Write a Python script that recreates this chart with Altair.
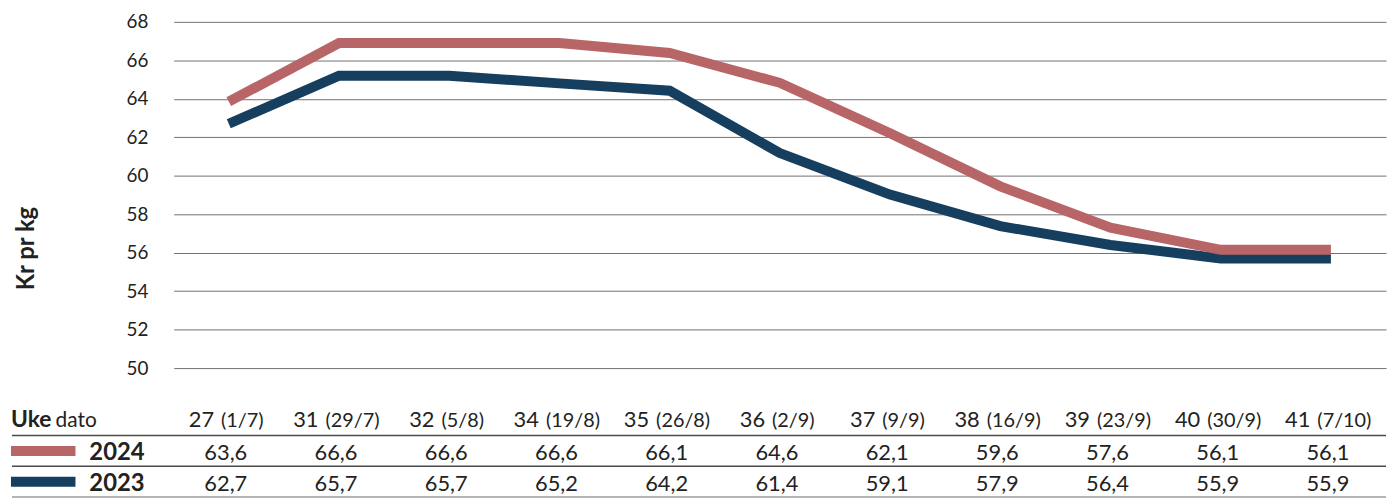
import altair as alt
import pandas as pd

# ---- data ----
weeks = ["27", "31", "32", "34", "35", "36", "37", "38", "39", "40", "41"]
dates = ["(1/7)", "(29/7)", "(5/8)", "(19/8)", "(26/8)", "(2/9)", "(9/9)",
         "(16/9)", "(23/9)", "(30/9)", "(7/10)"]
line_2024 = [63.85, 66.9, 66.9, 66.9, 66.38, 64.83, 62.21, 59.45, 57.3, 56.15, 56.15]
line_2023 = [62.7, 65.2, 65.2, 64.8, 64.42, 61.18, 59.02, 57.38, 56.4, 55.7, 55.7]
table_2024 = [63.6, 66.6, 66.6, 66.6, 66.1, 64.6, 62.1, 59.6, 57.6, 56.1, 56.1]
table_2023 = [62.7, 65.7, 65.7, 65.2, 64.2, 61.4, 59.1, 57.9, 56.4, 55.9, 55.9]
years = ["2024", "2023"]
colors = ["#B86567", "#163E5E"]
y_ticks = list(range(50, 70, 2))

FONT = "Lato"
INK = "#222222"
W, H, TH = 1222, 349, 93
n = len(weeks)
step = W / n
idx = list(range(n))


def fmt(v):
    return f"{v:.1f}".replace(".", ",")


xscale = alt.Scale(domain=[-0.5, n - 0.5], nice=False, zero=False)
yscale = alt.Scale(domain=[50, 68], nice=False, zero=False)
color = alt.Color("year:N", scale=alt.Scale(domain=years, range=colors), legend=None)

yaxis = alt.Axis(values=y_ticks, grid=True, gridColor="#707070", gridWidth=1,
                 domain=False, ticks=False, labelPadding=26, labelFont=FONT,
                 labelFontSize=19, labelColor=INK,
                 title="Kr pr kg", titleFont=FONT, titleFontSize=24,
                 titleFontWeight="bold", titleColor=INK, titleAngle=-90,
                 titleX=-141, titleY=228, titleAlign="center",
                 titleBaseline="alphabetic")

line_df = pd.DataFrame({"i": idx * 2,
                        "year": ["2024"] * n + ["2023"] * n,
                        "value": line_2024 + line_2023})


def line_layer(yr):
    return alt.Chart(line_df).transform_filter(alt.datum.year == yr).mark_line(
        strokeWidth=10, strokeCap="butt", strokeJoin="miter").encode(
        x=alt.X("i:Q", scale=xscale, axis=None),
        y=alt.Y("value:Q", scale=yscale, axis=yaxis),
        color=color)


top = alt.layer(line_layer("2023"), line_layer("2024")).properties(width=W, height=H)

# ---- table ----
rscale = alt.Scale(domain=[0, 3], reverse=True, nice=False, zero=False)
ry = alt.Y("r:Q", scale=rscale, axis=None)

hdr_df = pd.DataFrame({"i": idx, "week": weeks, "date": dates})
hdr = alt.Chart(hdr_df).transform_calculate(
    r="0.5",
    xw=f"datum.i + (25.5 - 7 - (11.6*length(datum.date) - 15.8))/2/{step} - 3/{step}",
    xd=f"datum.i + (25.5 + 7 - (11.6*length(datum.date) - 15.8))/2/{step} - 3/{step}",
)
hdr_week = hdr.mark_text(align="right", baseline="alphabetic", dy=7, font=FONT,
                         fontSize=22, color=INK).encode(
    x=alt.X("xw:Q", scale=xscale, axis=None), y=ry, text="week:N")
hdr_date = hdr.mark_text(align="left", baseline="alphabetic", dy=7, font=FONT,
                         fontSize=20, color=INK).encode(
    x=alt.X("xd:Q", scale=xscale, axis=None), y=ry, text="date:N")

val_df = pd.DataFrame({"i": idx * 2,
                       "year": ["2024"] * n + ["2023"] * n,
                       "label": [fmt(v) for v in table_2024] + [fmt(v) for v in table_2023]})
vals = alt.Chart(val_df).transform_calculate(
    r="datum.year == '2024' ? 1.5 : 2.5"
).mark_text(align="center", baseline="alphabetic", dy=9, dx=-3, font=FONT, fontSize=22,
            color=INK).encode(
    x=alt.X("i:Q", scale=xscale, axis=None), y=ry, text="label:N")

row_df = pd.DataFrame({"year": years})
row_base = alt.Chart(row_df).transform_calculate(
    r="datum.year == '2024' ? 1.5 : 2.5")
row_lbl = row_base.mark_text(align="left", baseline="alphabetic", dy=9, font=FONT,
                             fontSize=24, fontWeight="bold", color=INK).encode(
    x=alt.value(-85), y=ry, text="year:N")
swatch = row_base.mark_rule(strokeWidth=10, strokeCap="square").encode(
    x=alt.value(-159), x2=alt.value(-104), y=ry, color=color)

head_df = pd.DataFrame({"a": ["Uke"], "b": ["dato"]})
head = alt.Chart(head_df).transform_calculate(r="0.5")
uke = head.mark_text(align="left", baseline="alphabetic", dy=7, font=FONT,
                     fontSize=23, fontWeight="bold", color=INK).encode(
    x=alt.value(-164), y=ry, text="a:N")
dato = head.mark_text(align="left", baseline="alphabetic", dy=7, font=FONT,
                      fontSize=21, color=INK).encode(
    x=alt.value(-119), y=ry, text="b:N")

sep_dark = alt.Chart(pd.DataFrame({"r": [1, 2]})).mark_rule(
    color="#4a4a4a", strokeWidth=1.5).encode(x=alt.value(-163), x2=alt.value(W), y=ry)
sep_light = alt.Chart(pd.DataFrame({"r": [3]})).mark_rule(
    color="#b5b5b5", strokeWidth=2).encode(x=alt.value(-163), x2=alt.value(W), y=ry)

table = alt.layer(sep_dark, sep_light, swatch, row_lbl, uke, dato,
                  hdr_week, hdr_date, vals).properties(width=W, height=TH)

chart = alt.vconcat(top, table, spacing=37, bounds="flush").resolve_scale(
    y="independent", x="independent", color="shared"
).properties(
    padding={"left": 0, "top": 3, "right": 0, "bottom": 0}
).configure_view(stroke=None)

chart.save("out.html", embed_options={"renderer": "svg", "actions": False})
